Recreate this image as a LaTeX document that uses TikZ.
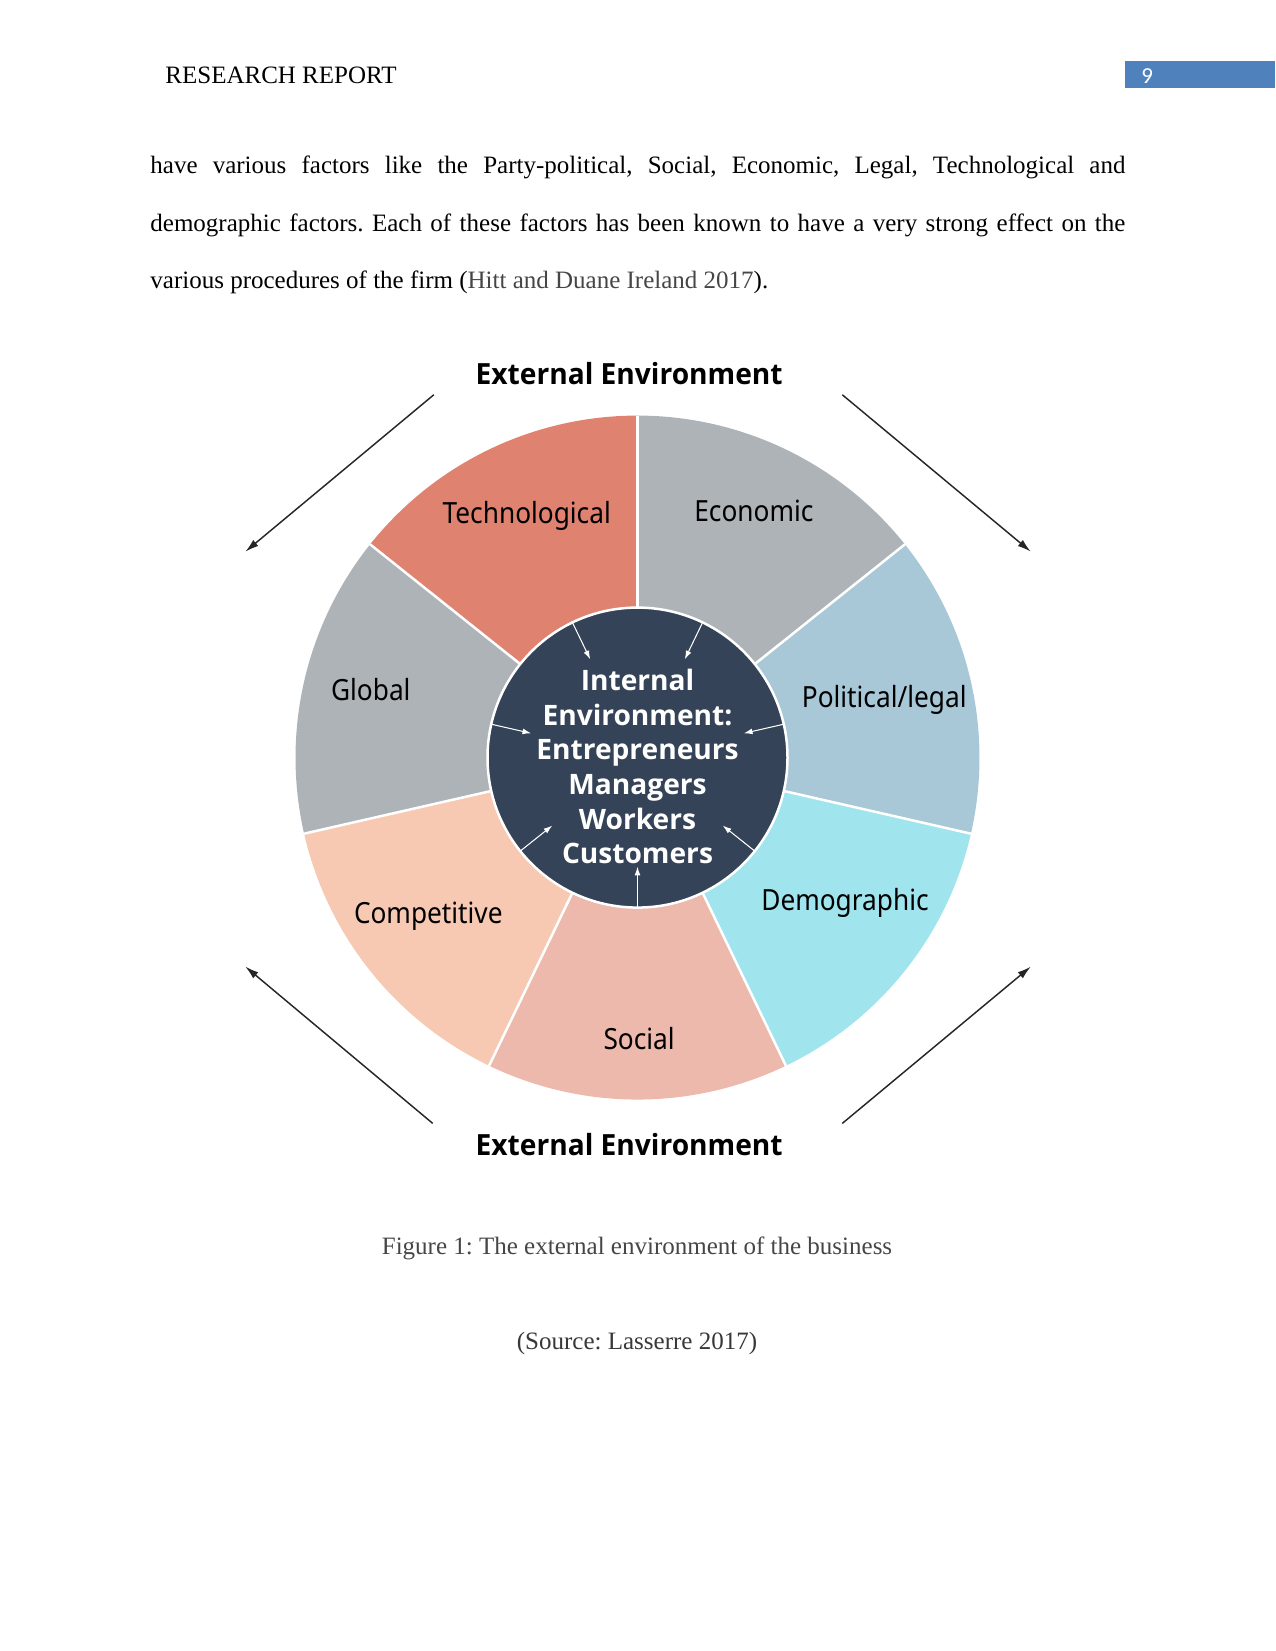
\documentclass[tikz,border=0pt]{standalone}
\usepackage{fontspec}
\setmainfont{Liberation Serif}
\newfontfamily\lblfont[FakeStretch=0.9]{Noto Sans}
\IfFontExistsTF{Open Sans Bold}{%
  \newfontfamily\extfont[FakeStretch=0.965]{Open Sans Bold}%
  \newfontfamily\corefont{Open Sans Bold}%
}{%
  \newfontfamily\extfont[FakeBold=2.5,FakeStretch=1.04]{Noto Sans}%
  \newfontfamily\corefont[FakeBold=2.5,FakeStretch=1.08]{Noto Sans}%
}
\newfontfamily\pgfont{Carlito}
\usetikzlibrary{arrows.meta,calc}
\frenchspacing
\definecolor{ctech}{RGB}{224,130,112}
\definecolor{cecon}{RGB}{174,179,184}
\definecolor{cpol}{RGB}{168,200,216}
\definecolor{cdem}{RGB}{160,228,238}
\definecolor{csoc}{RGB}{236,185,172}
\definecolor{ccomp}{RGB}{248,201,178}
\definecolor{cglob}{RGB}{174,179,184}
\definecolor{ccore}{RGB}{52,67,87}
\definecolor{pgblue}{RGB}{79,129,189}
\definecolor{captgray}{RGB}{70,70,70}
\tikzset{
  seglabel/.style={anchor=base, inner sep=0pt, font=\lblfont\fontsize{14}{16}\selectfont, text=black},
  extlabel/.style={anchor=base, inner sep=0pt, font=\extfont\fontsize{14}{16}\selectfont, text=black},
  coretext/.style={inner sep=0pt, align=center, text=white, font=\corefont\fontsize{13.5}{16.6}\selectfont},
  bodyline/.style={anchor=base west, inner sep=0pt, font=\fontsize{12}{14}\selectfont\frenchspacing},
  outarrow/.style={draw=black!85, line width=0.7pt, -{Latex[length=6.5pt,width=3.8pt]}},
  inarrow/.style={draw=white, line width=0.5pt, -{Latex[length=4.2pt,width=2.8pt]}},
  sepline/.style={draw=white, line width=1.2pt}
}
\begin{document}
\begin{tikzpicture}[x=0.48pt, y=0.48pt]
\useasboundingbox (0,0) rectangle (1275,1651);
% header
\fill[pgblue] (1124.5,1562.5) rectangle (1275,1590);
\node[anchor=base west, inner sep=0pt, text=white, font=\pgfont\fontsize{11}{13}\selectfont] (pg) at (1141,1567) {9};
\node[bodyline] (hdr) at (165,1567) {RESEARCH REPORT};
% body
\node[bodyline] (l1) at (150,1477) {\makebox[468pt][s]{have various factors like the Party-political, Social, Economic, Legal, Technological and}};
\node[bodyline] (l2) at (150,1419.5) {\makebox[468pt][s]{demographic factors. Each of these factors has been known to have a very strong effect on the}};
\node[bodyline] (l3) at (150,1362) {various procedures of the firm (\textcolor{captgray}{Hitt and Duane Ireland 2017}).};
% wheel
\coordinate (C) at (637.5,893.4);
\foreach \a/\b/\c in {38.5714/90/cecon, -12.8571/38.5714/cpol, -64.2857/-12.8571/cdem, -115.7143/-64.2857/csoc, -167.1429/-115.7143/ccomp, -218.5714/-167.1429/cglob, -270/-218.5714/ctech}{
  \fill[\c] (C) -- ++(\a:342) arc[start angle=\a, end angle=\b, radius=342] -- cycle;
}
\foreach \a in {90, 38.5714, -12.8571, -64.2857, -115.7143, -167.1429, -218.5714}{
  \draw[sepline] (C) -- ++(\a:342);
}
\fill[ccore] (C) circle[radius=150];
\draw[sepline] (C) circle[radius=150];
% inner arrows
\foreach \a [count=\i] in {64.2857, 12.8571, -38.5714, -90, -141.4286, -192.8571, 115.7143}{
  \coordinate (is\i) at ($(C)+(\a:149)$);
  \coordinate (ie\i) at ($(C)+(\a:109)$);
  \draw[inarrow] (is\i) -- (ie\i);
}
\node[coretext] (core) at (637.5,884.3) {Internal\\Environment:\\Entrepreneurs\\Managers\\Workers\\Customers};
% labels
\node[seglabel] (tech) at (526.7,1127.7) {Technological};
\node[seglabel] (econ) at (753.9,1129.5) {Economic};
\node[seglabel] (pol) at (884.2,943) {Political/legal};
\node[seglabel] (dem) at (845,740) {Demographic};
\node[seglabel] (soc) at (639.1,601) {Social};
\node[seglabel] (comp) at (428.3,727) {Competitive};
\node[seglabel] (glob) at (370.8,950) {Global};
\node[extlabel] (exttop) at (629.2,1266.7) {External Environment};
\node[extlabel] (extbot) at (629.2,495) {External Environment};
% outer arrows
\coordinate (tl1) at (433.8,1256.2); \coordinate (tl2) at (245.3,1099.3);
\coordinate (tr1) at (842.3,1256.2); \coordinate (tr2) at (1030.8,1099.3);
\coordinate (bl1) at (432.7,527.6); \coordinate (bl2) at (245.3,684.4);
\coordinate (br1) at (842.3,527.6); \coordinate (br2) at (1030.8,684.4);
\draw[outarrow] (tl1) -- (tl2);
\draw[outarrow] (tr1) -- (tr2);
\draw[outarrow] (bl1) -- (bl2);
\draw[outarrow] (br1) -- (br2);
% caption
\node[anchor=base, inner sep=0pt, text=captgray, font=\fontsize{12}{14}\selectfont\frenchspacing] (cap) at (637,396) {Figure 1: The external environment of the business};
\node[anchor=base, inner sep=0pt, text=captgray!80!black, font=\fontsize{12}{14}\selectfont\frenchspacing] (src) at (637,301) {(Source: Lasserre 2017)};
\end{tikzpicture}
\end{document}
